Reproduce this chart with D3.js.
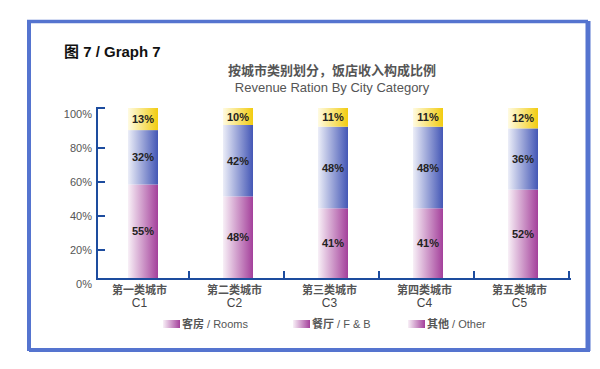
<!DOCTYPE html>
<html><head><meta charset="utf-8">
<script src="https://cdn.jsdelivr.net/npm/d3@7/dist/d3.min.js"></script>
<style>
html,body{margin:0;padding:0;background:#fff;}
svg{display:block;font-family:"Liberation Sans","Noto Sans CJK SC",Arial,sans-serif;}
</style></head>
<body>
<svg id="c" width="600" height="369"></svg>
<script>
// ---- data ----
const categoriesCN = ["第一类城市","第二类城市","第三类城市","第四类城市","第五类城市"];
const categories = ["C1","C2","C3","C4","C5"];
const rooms = [55,48,41,41,52];
const fnb = [32,42,48,48,36];
const other = [13,10,11,11,12];
const seriesNamesCN = ["客房","餐厅","其他"];
const seriesNamesEN = [" / Rooms"," / F & B"," / Other"];
const yTicks = [0,20,40,60,80,100];

const svg = d3.select("#c");
const defs = svg.append("defs");
function grad(id, c0, c1){
  const g = defs.append("linearGradient").attr("id",id).attr("x1","0%").attr("x2","100%").attr("y1","0%").attr("y2","0%");
  g.append("stop").attr("offset","0%").attr("stop-color",c0);
  g.append("stop").attr("offset","100%").attr("stop-color",c1);
}
grad("gPink","#f8f0f7","#a4409b");
grad("gBlue","#eceef8","#4457b6");
grad("gYellow","#fffbe2","#f2cc10");
const fills = ["url(#gPink)","url(#gBlue)","url(#gYellow)"];

// frame
const frameC = "#5574cf";
svg.append("line").attr("x1",27).attr("x2",588).attr("y1",21.5).attr("y2",21.5).attr("stroke",frameC).attr("stroke-width",3.5);
svg.append("line").attr("x1",29).attr("x2",29).attr("y1",20).attr("y2",351).attr("stroke",frameC).attr("stroke-width",4);
svg.append("line").attr("x1",588).attr("x2",588).attr("y1",21).attr("y2",351).attr("stroke",frameC).attr("stroke-width",5);
svg.append("line").attr("x1",29).attr("x2",590).attr("y1",350).attr("y2",350).attr("stroke",frameC).attr("stroke-width",4);

// titles
svg.append("text").attr("x",64).attr("y",57).attr("font-size",15).attr("font-weight","bold").attr("fill","#111")
  .text("图 7 / Graph 7");
svg.append("text").attr("x",332).attr("y",75).attr("text-anchor","middle").attr("font-size",13).attr("font-weight","bold").attr("fill","#555")
  .attr("font-family","Noto Sans CJK SC").text("按城市类别划分，饭店收入构成比例");
svg.append("text").attr("x",332).attr("y",92).attr("text-anchor","middle").attr("font-size",13).attr("fill","#555")
  .text("Revenue Ration By City Category");

// scales
const x = d3.scaleBand().domain(categories).range([92,567]);
const y = d3.scaleLinear().domain([0,100]).range([278,108]);
const yAxisScale = d3.scaleLinear().domain([0,100]).range([283.5,113.5]);
const barW = 30, barShift = 3.5;
const axisC = "#1d4c9e";

// stacked bars
const rows = categories.map((c,i)=>({cat:c, v:[rooms[i],fnb[i],other[i]]}));
rows.forEach(r=>{
  let acc = 0;
  r.v.forEach((v,k)=>{
    const y0 = acc, y1 = Math.min(acc+v,100); acc = acc+v;
    const x0 = x(r.cat)+x.bandwidth()/2-barW/2+barShift;
    svg.append("rect").attr("x",x0).attr("width",barW)
      .attr("y",y(y1)).attr("height",y(y0)-y(y1))
      .attr("fill",fills[k]);
    svg.append("text").attr("x",x0+barW/2).attr("y",(y(y0)+y(y1))/2+4)
      .attr("text-anchor","middle").attr("font-size",11).attr("font-weight","bold").attr("fill","#222")
      .text(v+"%");
  });
});

// y axis
svg.append("line").attr("x1",97).attr("x2",97).attr("y1",107).attr("y2",279).attr("stroke",axisC).attr("stroke-width",2);
const yA = svg.append("g").attr("transform","translate(97,0)")
  .call(d3.axisRight(yAxisScale).tickValues(yTicks.filter(t=>t>0)).tickSize(8).tickFormat(""));
yA.select(".domain").remove();
yA.selectAll("line").attr("stroke",axisC).attr("stroke-width",2);
yA.selectAll(".tick").filter(d=>d===100).attr("transform","translate(0,108)");
svg.append("g").selectAll("text").data(yTicks).join("text")
  .attr("x",92).attr("y",d=>yAxisScale(d)+4).attr("text-anchor","end")
  .attr("font-size",11).attr("fill","#555").text(d=>d+"%");

// x axis
svg.append("line").attr("x1",96).attr("x2",571).attr("y1",279).attr("y2",279).attr("stroke",axisC).attr("stroke-width",2);
const bounds = categories.map(c=>x(c)+x.bandwidth());
svg.append("g").selectAll("line").data(bounds).join("line")
  .attr("x1",d=>d+2).attr("x2",d=>d+2).attr("y1",279).attr("y2",271)
  .attr("stroke",axisC).attr("stroke-width",2);
const xl = svg.append("g");
xl.selectAll("text.cn").data(categories).join("text").attr("class","cn")
  .attr("x",d=>x(d)+x.bandwidth()/2).attr("y",294).attr("text-anchor","middle")
  .attr("font-size",11).attr("font-weight","bold").attr("fill","#555").attr("font-family","Noto Sans CJK SC")
  .text((d,i)=>categoriesCN[i]);
xl.selectAll("text.en").data(categories).join("text").attr("class","en")
  .attr("x",d=>x(d)+x.bandwidth()/2).attr("y",307).attr("text-anchor","middle")
  .attr("font-size",12).attr("fill","#444").text(d=>d);

// legend (original shows the same swatch for all entries)
const legX = [163,293,408];
const lg = svg.append("g");
seriesNamesCN.forEach((n,i)=>{
  lg.append("rect").attr("x",legX[i]).attr("y",320).attr("width",17).attr("height",8).attr("fill","url(#gPink)");
  const t = lg.append("text").attr("x",legX[i]+19).attr("y",328).attr("font-size",11).attr("fill","#555");
  t.append("tspan").attr("font-weight","bold").attr("font-family","Noto Sans CJK SC").text(n);
  t.append("tspan").text(seriesNamesEN[i]);
});
</script>
</body></html>
